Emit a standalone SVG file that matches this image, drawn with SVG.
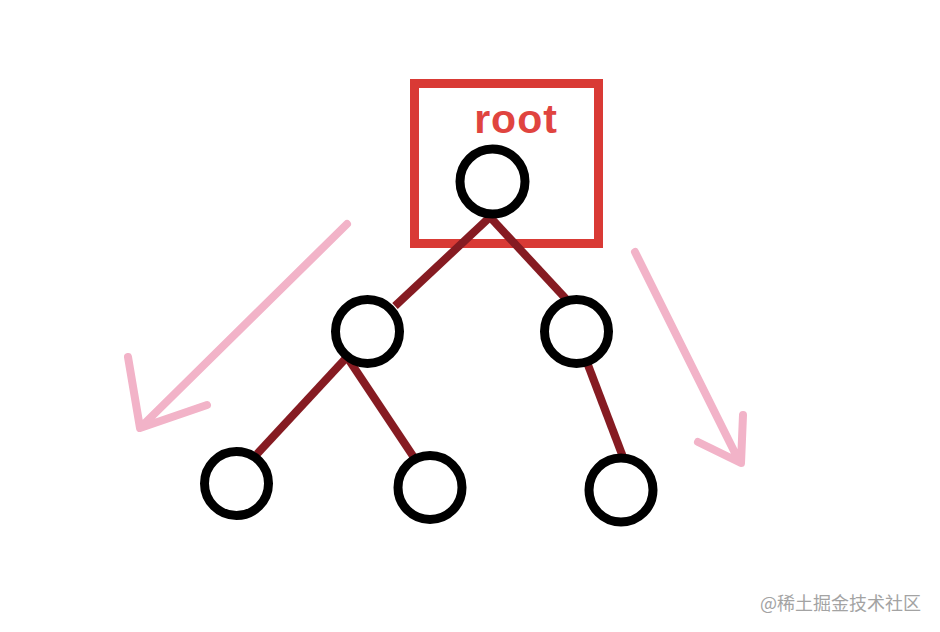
<svg xmlns="http://www.w3.org/2000/svg" width="940" height="632" viewBox="0 0 940 632">
<style>
.node{fill:none;stroke:#000;stroke-width:9}
.edge{stroke:#861b22;stroke-width:8;stroke-linecap:butt;fill:none}
.arrow{stroke:#f2b3c8;stroke-width:8;stroke-linecap:round;stroke-linejoin:round;fill:none}
.box{fill:none;stroke:#d93a35;stroke-width:9}
.label{font-family:"Liberation Sans",Arial,sans-serif;font-weight:bold;font-size:41px;fill:#e0443f;letter-spacing:1px}
.wm{font-family:"Noto Sans CJK SC","Noto Sans",sans-serif;font-size:18px;fill:#a3a3a3}
</style>
<rect width="940" height="632" fill="#fff"/>
<g id="root-box">
<rect class="box" x="414.5" y="83.5" width="184" height="160"/>
<text class="label" x="516" y="133" text-anchor="middle">root</text>
</g>
<g id="connectors">
<line class="edge" x1="490" y1="217" x2="395" y2="306"/>
<line class="edge" x1="490" y1="217" x2="567" y2="300"/>
<line class="edge" x1="347" y1="357" x2="257" y2="454"/>
<line class="edge" x1="347" y1="357" x2="417" y2="462"/>
<line class="edge" x1="588" y1="365" x2="623" y2="457"/>
</g>
<g id="n-root"><circle class="node" cx="492.5" cy="181.5" r="32.5"/></g>
<g id="n-l"><circle class="node" cx="367.5" cy="331.5" r="32"/></g>
<g id="n-r"><circle class="node" cx="576.5" cy="331.5" r="32"/></g>
<g id="n-ll"><circle class="node" cx="236.5" cy="483.5" r="32"/></g>
<g id="n-lr"><circle class="node" cx="430" cy="487.5" r="32"/></g>
<g id="n-rr"><circle class="node" cx="621" cy="490" r="32"/></g>
<g id="arrows">
<path class="arrow" d="M347 224 L141 427 M128 357 L140 428 L207 405"/>
<path class="arrow" d="M635 252 L739 461 M743 415 L741 463 L698 442"/>
</g>
<text class="wm" x="760" y="610">@稀土掘金技术社区</text>
</svg>
